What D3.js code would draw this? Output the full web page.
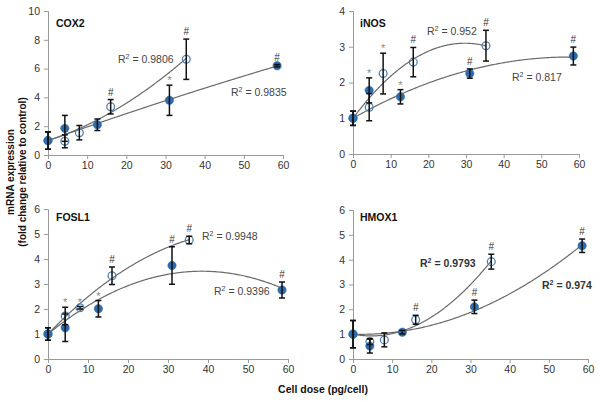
<!DOCTYPE html>
<html><head><meta charset="utf-8">
<script src="https://cdn.jsdelivr.net/npm/d3@7/dist/d3.min.js"></script>
<style>body{margin:0;background:#fff}svg{display:block;font-family:"Liberation Sans",Arial,sans-serif}</style>
</head><body><svg id="c" width="600" height="402"></svg>
<script>
// ---- data ----
const genes = ["COX2", "iNOS", "FOSL1", "HMOX1"];
const openDose = [0, 4.3, 8, 16, 35.3];
const filledDose = [0, 4.3, 12.6, 31, 58.5];
const yMax = [10, 4, 6, 6];
const yStep = [2, 1, 1, 1];
const xTicks = [0, 10, 20, 30, 40, 50, 60];

const openMean = [
  [1, 0.95, 1.55, 3.35, 6.65],
  [1, 1.31, 2.25, 2.57, 3.03],
  [1, 1.72, 2.05, 3.33, 4.76],
  [1, 0.70, 0.77, 1.58, 3.92]
];
const openErr = [
  [0.6, 0.45, 0.5, 0.5, 1.4],
  [0.2, 0.38, 0.57, 0.41, 0.43],
  [0.25, 0.35, 0.05, 0.35, 0.15],
  [0.55, 0.12, 0.28, 0.18, 0.3]
];
const filledMean = [
  [1, 1.85, 2.1, 3.8, 6.2],
  [1, 1.78, 1.6, 2.25, 2.74],
  [1, 1.25, 2.01, 3.74, 2.76],
  [1, 0.52, 1.08, 2.1, 4.56]
];
const filledErr = [
  [0.6, 0.9, 0.4, 1.05, 0.08],
  [0.2, 0.35, 0.2, 0.13, 0.25],
  [0.25, 0.55, 0.33, 0.75, 0.32],
  [0.55, 0.28, 0.07, 0.27, 0.27]
];
const openSig = [
  ["", "", "", "#", "#"],
  ["", "", "*", "#", "#"],
  ["", "*", "*", "#", "#"],
  ["", "", "", "#", "#"]
];
const filledSig = [
  ["", "", "", "*", "#"],
  ["", "*", "*", "#", "#"],
  ["", "", "*", "#", "#"],
  ["", "", "", "#", "#"]
];
const openR2 = ["0.9806", "0.952", "0.9948", "0.9793"];
const filledR2 = ["0.9835", "0.817", "0.9396", "0.974"];

// ---- layout ----
const panels = [
  {x0: 48, x1: 283, yT: 11, yB: 155, tx: 56, ty: 27, oL: [118, 63], fL: [231, 96], bold: false},
  {x0: 353, x1: 579, yT: 11, yB: 154, tx: 360, ty: 27, oL: [427, 35], fL: [512, 81], bold: false},
  {x0: 48, x1: 288, yT: 209, yB: 359, tx: 56, ty: 221, oL: [202, 240], fL: [214, 295], bold: false},
  {x0: 353, x1: 588, yT: 210, yB: 359, tx: 360, ty: 221, oL: [420, 267], fL: [542, 289], bold: true}
];
const BLUE = "#2f6ba8", OPEN = "#4f82b2", TREND = "#6a6a6a", AX = "#9a9a9a";

const svg = d3.select("#c");

// quadratic fit with intercept fixed at first point (control = 1)
function fit(xs, ys) {
  const c = ys[0];
  let s2 = 0, s3 = 0, s4 = 0, r1 = 0, r2 = 0;
  xs.forEach((x, i) => {
    const d = ys[i] - c;
    s2 += x * x; s3 += x * x * x; s4 += x * x * x * x;
    r1 += x * d; r2 += x * x * d;
  });
  const det = s2 * s4 - s3 * s3;
  const a = (r1 * s4 - s3 * r2) / det;
  const b = (s2 * r2 - s3 * r1) / det;
  return x => c + a * x + b * x * x;
}

panels.forEach((p, k) => {
  const x = d3.scaleLinear().domain([0, 60]).range([p.x0, p.x1]);
  const y = d3.scaleLinear().domain([0, yMax[k]]).range([p.yB, p.yT]);
  const g = svg.append("g");

  const xa = g.append("g").attr("transform", `translate(0,${p.yB})`)
    .call(d3.axisBottom(x).tickValues(xTicks).tickSize(4).tickPadding(3).tickFormat(d3.format("d")));
  const yt = d3.range(0, yMax[k] + 0.001, yStep[k]).map(Math.round);
  const ya = g.append("g").attr("transform", `translate(${p.x0},0)`)
    .call(d3.axisLeft(y).tickValues(yt).tickSize(4).tickPadding(4).tickFormat(d3.format("d")));
  [xa, ya].forEach(a => {
    a.select(".domain").attr("stroke", AX);
    a.selectAll(".tick line").attr("stroke", AX);
    a.selectAll(".tick text").attr("fill", "#333").style("font-size", "10.5px")
      .style("font-family", '"Liberation Sans",Arial,sans-serif');
  });

  g.append("text").attr("x", p.tx).attr("y", p.ty).text(genes[k])
    .style("font-weight", "bold").style("font-size", "10.5px").attr("fill", "#111");

  const series = [
    {xs: openDose, ys: openMean[k], es: openErr[k], sig: openSig[k], open: true},
    {xs: filledDose, ys: filledMean[k], es: filledErr[k], sig: filledSig[k], open: false}
  ];
  // trend lines
  series.forEach(s => {
    const f = fit(s.xs, s.ys);
    const xmax = s.xs[s.xs.length - 1];
    const pts = d3.range(0, 201).map(i => xmax * i / 200);
    g.append("path").attr("d", d3.line().x(d => x(d)).y(d => y(f(d)))(pts))
      .attr("fill", "none").attr("stroke", TREND).attr("stroke-width", 1.2);
  });
  // markers
  series.forEach(s => {
    g.selectAll(null).data(s.xs).enter().append("circle")
      .attr("cx", d => x(d)).attr("cy", (d, i) => y(s.ys[i]))
      .attr("r", s.open ? 3.9 : 4.2)
      .attr("fill", s.open ? "none" : BLUE)
      .attr("stroke", s.open ? OPEN : BLUE).attr("stroke-width", s.open ? 1.3 : 0.5);
  });
  // error bars and significance marks
  series.forEach(s => {
    s.xs.forEach((d, i) => {
      const cx = x(d), t = y(s.ys[i] + s.es[i]), b = y(s.ys[i] - s.es[i]);
      g.append("line").attr("x1", cx).attr("x2", cx).attr("y1", t).attr("y2", b)
        .attr("stroke", "#111").attr("stroke-width", 1.5);
      [t, b].forEach(v => g.append("line").attr("x1", cx - 3).attr("x2", cx + 3)
        .attr("y1", v).attr("y2", v).attr("stroke", "#111").attr("stroke-width", 1.5));
      if (s.sig[i]) {
        const star = s.sig[i] === "*";
        g.append("text").attr("x", cx).attr("y", t - (star ? 1 : 4))
          .attr("text-anchor", "middle").text(s.sig[i])
          .style("font-size", star ? "11px" : "10px")
          .attr("fill", star ? "#888" : "#333");
      }
    });
  });
  // R² labels
  [[p.oL, openR2[k]], [p.fL, filledR2[k]]].forEach(([pos, v]) => {
    const t = g.append("text").attr("x", pos[0]).attr("y", pos[1])
      .style("font-size", "10.5px").attr("fill", p.bold ? "#333" : "#444")
      .style("font-weight", p.bold ? "bold" : "normal");
    t.append("tspan").text("R");
    t.append("tspan").attr("dy", -4).style("font-size", "7px").text("2");
    t.append("tspan").attr("dy", 4).text(" = " + v);
  });
});

svg.append("text").attr("x", 323).attr("y", 393).attr("text-anchor", "middle")
  .text("Cell dose (pg/cell)").style("font-weight", "bold").style("font-size", "10.5px").attr("fill", "#111");
const yl = svg.append("text").attr("transform", "translate(14,172) rotate(-90)")
  .attr("text-anchor", "middle").style("font-weight", "bold").style("font-size", "10px").attr("fill", "#111");
yl.append("tspan").attr("x", 0).attr("y", 0).text("mRNA expression");
yl.append("tspan").attr("x", 0).attr("y", 12).text("(fold change relative to control)");
</script></body></html>
